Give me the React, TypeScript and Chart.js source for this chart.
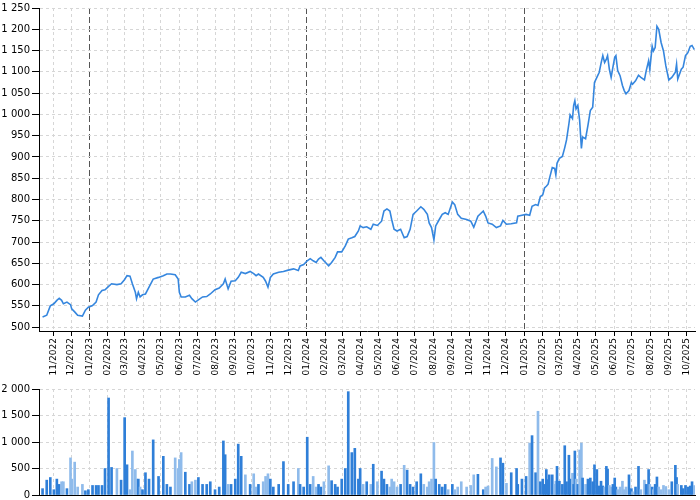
import React, { useEffect, useRef } from 'react';
import { Chart, registerables } from 'chart.js';

Chart.register(...registerables);

const FONT = 'DejaVu Sans';

const dates = [
  '2022-10-14','2022-10-21','2022-10-27','2022-11-02','2022-11-07','2022-11-11','2022-11-15','2022-11-18','2022-11-24','2022-11-30',
  '2022-12-02','2022-12-07','2022-12-12','2022-12-20','2022-12-25','2022-12-30','2023-01-06','2023-01-12','2023-01-16','2023-01-22',
  '2023-01-27','2023-02-02','2023-02-07','2023-02-16','2023-02-23','2023-03-01','2023-03-05','2023-03-10','2023-03-14','2023-03-19',
  '2023-03-21','2023-03-24','2023-03-27','2023-03-31','2023-04-05','2023-04-11','2023-04-18','2023-04-27','2023-05-05','2023-05-11',
  '2023-05-17','2023-05-25','2023-05-30','2023-06-01','2023-06-04','2023-06-11','2023-06-18','2023-06-22','2023-06-28','2023-07-03',
  '2023-07-10','2023-07-17','2023-07-23','2023-07-31','2023-08-07','2023-08-14','2023-08-17','2023-08-22','2023-08-27','2023-09-03',
  '2023-09-08','2023-09-13','2023-09-20','2023-09-28','2023-10-04','2023-10-08','2023-10-12','2023-10-20','2023-10-24','2023-10-28',
  '2023-11-01','2023-11-06','2023-11-15','2023-11-23','2023-12-01','2023-12-10','2023-12-18','2023-12-21','2023-12-27','2024-01-02',
  '2024-01-07','2024-01-12','2024-01-17','2024-01-21','2024-01-25','2024-01-30','2024-02-07','2024-02-12','2024-02-18','2024-02-22',
  '2024-02-29','2024-03-06','2024-03-11','2024-03-17','2024-03-22','2024-03-28','2024-03-31','2024-04-05','2024-04-11','2024-04-18',
  '2024-04-22','2024-04-29','2024-05-06','2024-05-10','2024-05-15','2024-05-20','2024-05-23','2024-05-27','2024-06-01','2024-06-07',
  '2024-06-13','2024-06-18','2024-06-23','2024-06-28','2024-07-04','2024-07-11','2024-07-16','2024-07-22','2024-07-25','2024-07-29',
  '2024-08-02','2024-08-05','2024-08-11','2024-08-16','2024-08-21','2024-08-26','2024-09-02','2024-09-06','2024-09-11','2024-09-17',
  '2024-09-26','2024-10-03','2024-10-08','2024-10-15','2024-10-24','2024-10-28','2024-11-01','2024-11-08','2024-11-15','2024-11-22',
  '2024-11-26','2024-12-02','2024-12-10','2024-12-19','2024-12-21','2024-12-28','2025-01-04','2025-01-10','2025-01-14','2025-01-20',
  '2025-01-24','2025-01-28','2025-02-01','2025-02-04','2025-02-07','2025-02-10','2025-02-12','2025-02-17','2025-02-21','2025-02-23',
  '2025-02-25','2025-03-01','2025-03-06','2025-03-10','2025-03-13','2025-03-17','2025-03-19','2025-03-23','2025-03-25','2025-03-27',
  '2025-03-29','2025-04-01','2025-04-04','2025-04-07','2025-04-09','2025-04-14','2025-04-18','2025-04-22','2025-04-26','2025-04-29',
  '2025-05-03','2025-05-07','2025-05-10','2025-05-13','2025-05-16','2025-05-19','2025-05-21','2025-05-24','2025-05-27','2025-05-30',
  '2025-06-02','2025-06-04','2025-06-07','2025-06-11','2025-06-15','2025-06-18','2025-06-21','2025-06-26','2025-06-30','2025-07-02',
  '2025-07-07','2025-07-12','2025-07-16','2025-07-22','2025-07-25','2025-07-29','2025-07-31','2025-08-04','2025-08-06','2025-08-09',
  '2025-08-12','2025-08-15','2025-08-19','2025-08-23','2025-08-27','2025-09-01','2025-09-06','2025-09-12','2025-09-14','2025-09-16',
  '2025-09-22','2025-09-25','2025-09-29','2025-10-03','2025-10-07','2025-10-10','2025-10-14',
];

const closes = [
  524,528,550,555,563,568,563,555,559,553,
  543,536,528,526,540,547,551,559,576,586,
  588,596,602,600,602,612,621,620,602,582,
  567,582,571,576,578,594,613,617,621,625,
  625,623,613,582,571,571,575,567,559,564,
  571,572,578,588,592,602,613,590,608,609,
  617,629,626,631,626,621,625,617,608,594,
  617,625,629,631,634,637,633,644,647,656,
  661,656,652,660,664,656,644,652,664,677,
  677,691,707,710,713,726,738,734,736,730,
  742,739,749,773,778,773,753,730,726,730,
  710,713,730,765,773,783,777,765,745,734,
  705,738,753,765,769,765,794,788,765,756,
  753,749,735,761,773,761,745,742,734,738,
  751,742,743,745,761,763,765,763,784,788,
  786,807,811,827,831,836,848,875,873,858,
  885,897,901,922,940,978,999,990,1021,1032,
  1013,1021,986,920,947,943,974,1009,1017,1075,
  1087,1099,1120,1138,1122,1130,1138,1106,1087,1111,
  1134,1138,1103,1091,1068,1056,1048,1056,1075,1071,
  1079,1092,1087,1081,1103,1126,1106,1160,1149,1157,
  1207,1200,1169,1149,1114,1081,1087,1099,1118,1083,
  1106,1111,1138,1145,1160,1162,1152,
];

const volumes = [
  120,280,330,100,300,200,250,250,120,700,
  300,620,150,200,80,100,180,180,180,180,
  500,1830,520,500,280,1460,570,100,830,480,
  300,300,150,100,420,300,1040,350,730,200,
  150,700,500,670,800,430,200,250,280,330,
  200,200,250,100,150,1020,760,200,200,300,
  960,730,380,200,400,150,200,250,350,400,
  300,150,200,630,200,250,500,200,150,1090,
  200,350,150,200,150,250,550,270,200,150,
  300,500,1950,800,880,300,500,200,250,200,
  580,250,450,300,200,150,300,250,150,200,
  560,470,200,150,250,400,200,150,250,300,
  990,300,200,150,200,100,200,100,150,250,
  150,180,380,390,100,150,170,690,530,700,
  600,220,420,500,200,300,350,980,1120,420,
  1580,250,300,200,480,290,380,380,200,260,
  540,260,200,930,250,750,300,410,200,830,
  300,200,850,980,320,200,300,320,250,570,
  480,170,260,170,150,540,490,180,150,200,
  320,150,100,150,260,100,150,380,120,60,
  150,540,100,280,200,480,200,150,100,200,
  340,150,100,180,160,100,250,560,330,200,
  180,120,180,150,170,250,180,
];

const monthLabels = [
  '11/2022','12/2022',
  '01/2023','02/2023','03/2023','04/2023','05/2023','06/2023','07/2023','08/2023','09/2023','10/2023','11/2023','12/2023',
  '01/2024','02/2024','03/2024','04/2024','05/2024','06/2024','07/2024','08/2024','09/2024','10/2024','11/2024','12/2024',
  '01/2025','02/2025','03/2025','04/2025','05/2025','06/2025','07/2025','08/2025','09/2025','10/2025',
];

const priceTicks = [500, 550, 600, 650, 700, 750, 800, 850, 900, 950, 1000, 1050, 1100, 1150, 1200, 1250];
const volumeTicks = [0, 500, 1000, 1500, 2000];

const xStart = '2022-10-08';
const xEnd = '2025-10-15';

const toMs = (s: string) => Date.parse(s + 'T00:00:00Z');
const monthMs = monthLabels.map((l) => {
  const [mm, yyyy] = l.split('/');
  return Date.UTC(Number(yyyy), Number(mm) - 1, 1);
});
const isYearStart = (v: number) => {
  const i = monthMs.indexOf(v);
  return i >= 0 && monthLabels[i].startsWith('01/');
};
const fmt = (v: number) => {
  const s = String(Math.round(v));
  return s.replace(/\B(?=(\d{3})+(?!\d))/g, ' ');
};

const GRID = '#d6d6d6';

function xAxis(showLabels: boolean, yearLines: boolean, height: number) {
  return {
    type: 'linear' as const,
    min: toMs(xStart),
    max: toMs(xEnd),
    offset: false,
    afterBuildTicks: (s: any) => {
      s.ticks = monthMs.map((v) => ({ value: v }));
    },
    afterFit: (s: any) => {
      s.height = height;
    },
    ticks: {
      display: showLabels,
      autoSkip: false,
      maxRotation: 90,
      minRotation: 90,
      padding: 2,
      color: '#000',
      font: { family: FONT, size: 9 },
      callback: (v: any) => {
        const i = monthMs.indexOf(v);
        return i >= 0 ? monthLabels[i] : '';
      },
    },
    grid: {
      offset: false,
      color: (c: any) => (yearLines && c.tick && isYearStart(c.tick.value) ? '#555555' : GRID),
      lineWidth: 1,
      drawTicks: showLabels,
      tickLength: 5,
      tickColor: '#000',
      tickBorderDash: [1, 0],
    },
    border: {
      display: true,
      color: '#000',
      width: 1,
      dash: (c: any) => (yearLines && c.tick && isYearStart(c.tick.value) ? [6, 3] : [3, 3]),
    },
  };
}

function yAxis(min: number, max: number, ticks: number[]) {
  return {
    min,
    max,
    afterBuildTicks: (s: any) => {
      s.ticks = ticks.map((v) => ({ value: v }));
    },
    afterFit: (s: any) => {
      s.width = 39;
    },
    ticks: {
      padding: 2,
      color: '#000',
      font: { family: FONT, size: 10 },
      callback: (v: any) => fmt(Number(v)),
    },
    grid: {
      color: GRID,
      lineWidth: 1,
      tickLength: 7,
      tickColor: '#000',
      tickBorderDash: [1, 0],
    },
    border: { display: true, color: '#000', width: 1, dash: [3, 3] },
  };
}

export default function App() {
  const topRef = useRef<HTMLCanvasElement>(null);
  const botRef = useRef<HTMLCanvasElement>(null);

  useEffect(() => {
    document.body.style.margin = '0';
    Chart.defaults.font.family = FONT;

    const pricePoints = dates.map((d, i) => ({ x: toMs(d), y: closes[i] }));
    const volPoints = dates.map((d, i) => ({ x: toMs(d), y: volumes[i] }));
    const volColors = closes.map((c, i) => (i === 0 || c >= closes[i - 1] ? '#2f7fd8' : '#8fbbeb'));

    const top = new Chart(topRef.current!, {
      type: 'line',
      data: {
        datasets: [
          {
            data: pricePoints,
            borderColor: '#3586de',
            borderWidth: 1.6,
            pointRadius: 0,
            tension: 0,
            fill: false,
          },
        ],
      },
      options: {
        responsive: false,
        animation: false,
        devicePixelRatio: 1,
        layout: { padding: { left: 0, right: 5, top: 0, bottom: 0 } },
        plugins: { legend: { display: false }, tooltip: { enabled: false } },
        scales: {
          x: xAxis(true, true, 54) as any,
          y: yAxis(491, 1250, priceTicks) as any,
        },
      },
    });

    const bot = new Chart(botRef.current!, {
      type: 'bar',
      data: {
        datasets: [
          {
            data: volPoints,
            backgroundColor: volColors,
            barThickness: 2,
            borderWidth: 0,
          },
        ],
      },
      options: {
        responsive: false,
        animation: false,
        devicePixelRatio: 1,
        layout: { padding: { left: 0, right: 5, top: 0, bottom: 0 } },
        plugins: { legend: { display: false }, tooltip: { enabled: false } },
        scales: {
          x: xAxis(false, false, 6) as any,
          y: yAxis(0, 2000, volumeTicks) as any,
        },
      },
    });

    return () => {
      top.destroy();
      bot.destroy();
    };
  }, []);

  return (
    <div style={{ position: 'relative', width: 700, height: 500, background: '#fff' }}>
      <canvas ref={topRef} width={700} height={385} style={{ position: 'absolute', left: 0, top: 0 }} />
      <canvas ref={botRef} width={700} height={122} style={{ position: 'absolute', left: 0, top: 381 }} />
    </div>
  );
}
